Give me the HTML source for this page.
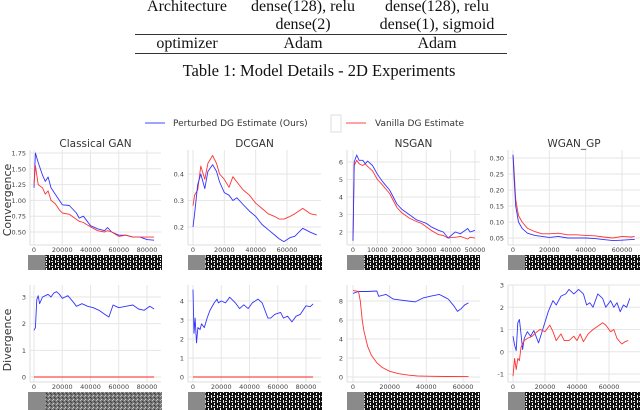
<!DOCTYPE html>
<html><head><meta charset="utf-8">
<style>
body{margin:0;background:#fff;width:640px;height:410px;overflow:hidden;}
svg{display:block;}
</style></head>
<body>
<svg id="fig" width="640" height="410" viewBox="0 0 640 410" xmlns="http://www.w3.org/2000/svg">
<defs>
<pattern id="pt" width="6" height="5" patternUnits="userSpaceOnUse">
<rect width="6" height="5" fill="#111"/>
<rect x="1" y="0" width="1" height="3" fill="#eee"/>
<rect x="3" y="1" width="2" height="1" fill="#ddd"/>
<rect x="4" y="3" width="1" height="2" fill="#fff"/>
</pattern>
<pattern id="pn" width="4" height="4" patternUnits="userSpaceOnUse">
<rect width="4" height="4" fill="#777"/>
<rect x="0" y="0" width="1" height="1" fill="#bbb"/>
<rect x="2" y="1" width="1" height="1" fill="#333"/>
<rect x="1" y="3" width="1" height="1" fill="#ccc"/>
<rect x="3" y="2" width="1" height="1" fill="#444"/>
</pattern>
</defs>
<g font-family="Liberation Serif, serif" font-size="16" fill="#111" text-anchor="middle">
<text x="187" y="11">Architecture</text>
<text x="303" y="11">dense(128), relu</text>
<text x="303" y="29">dense(2)</text>
<text x="437" y="11">dense(128), relu</text>
<text x="437" y="29">dense(1), sigmoid</text>
<line x1="135" y1="34.5" x2="507" y2="34.5" stroke="#333" stroke-width="1"/>
<text x="187" y="48">optimizer</text>
<text x="303" y="48">Adam</text>
<text x="437" y="48">Adam</text>
<line x1="135" y1="53.5" x2="507" y2="53.5" stroke="#333" stroke-width="1"/>
<text x="319" y="76" font-size="16.5">Table 1: Model Details - 2D Experiments</text>
</g>
<g font-family="DejaVu Sans, sans-serif" font-size="9" fill="#333">
<line x1="145" y1="123" x2="165" y2="123" stroke="#44f" stroke-width="1"/>
<text x="173" y="126">Perturbed DG Estimate (Ours)</text>
<rect x="331" y="115" width="10" height="17" fill="none" stroke="#ddd"/>
<line x1="346" y1="123" x2="366" y2="123" stroke="#f44" stroke-width="1"/>
<text x="375" y="126">Vanilla DG Estimate</text>
</g>
<text transform="translate(11,200) rotate(-90)" text-anchor="middle" font-family="DejaVu Sans, sans-serif" font-size="11" fill="#333">Convergence</text>
<text transform="translate(11,340) rotate(-90)" text-anchor="middle" font-family="DejaVu Sans, sans-serif" font-size="11" fill="#333">Divergence</text>
</svg>
<script>
// ---- data ----
const clsTopX=[0,1000,3000,6000,8000,10000,12000,15000,18000,20000,25000,30000,32000,35000,40000,45000,50000,52000,55000,60000,65000,70000,75000,80000,85000];
const clsTopBlue=[1.2,1.75,1.6,1.4,1.3,1.37,1.2,1.1,1.0,0.93,0.92,0.8,0.72,0.75,0.6,0.55,0.52,0.57,0.5,0.45,0.45,0.42,0.42,0.38,0.37];
const clsTopRed=[1.25,1.55,1.25,1.2,1.1,1.15,1.0,0.95,0.85,0.8,0.78,0.7,0.67,0.65,0.58,0.52,0.5,0.52,0.5,0.43,0.45,0.42,0.42,0.42,0.42];
const dcTopX=[0,1000,3000,5000,7500,9500,12500,15000,17000,20000,23000,25500,28000,32000,36000,40000,44000,48000,52000,55000,58000,62000,65000,70000,75000,79000];
const dcTopBlue=[0.2,0.25,0.36,0.40,0.345,0.41,0.435,0.41,0.37,0.33,0.32,0.3,0.31,0.285,0.26,0.24,0.21,0.19,0.17,0.155,0.145,0.16,0.165,0.195,0.18,0.17];
const dcTopRed=[0.28,0.32,0.34,0.43,0.38,0.44,0.47,0.44,0.40,0.38,0.35,0.39,0.37,0.34,0.32,0.29,0.27,0.25,0.24,0.23,0.23,0.24,0.25,0.27,0.25,0.245];
const nsTopX=[0,500,1500,2500,4000,5000,6000,8000,10000,12000,15000,18000,20000,23000,26000,28000,30000,32000,35000,37000,39000,41000,42000,44000,47000,48000,50000];
const nsTopBlue=[1.5,6.0,6.4,6.1,6.1,5.9,6.05,5.8,5.3,4.9,4.4,3.6,3.3,3.0,2.7,2.6,2.5,2.3,2.1,2.0,1.65,1.9,2.0,1.9,2.2,2.0,2.1];
const nsTopRed=[1.5,5.8,6.1,5.9,5.8,5.9,5.75,5.5,5.0,4.7,4.2,3.4,3.1,2.8,2.6,2.5,2.3,2.1,1.85,1.8,1.65,1.7,1.7,1.75,1.6,1.7,1.65];
const wgTopX=[0,500,1500,3000,5000,8000,12000,16000,20000,25000,30000,35000,40000,45000,50000,55000,60000,65000,67000];
const wgTopBlue=[0.31,0.25,0.15,0.1,0.08,0.065,0.058,0.055,0.052,0.055,0.05,0.05,0.05,0.048,0.045,0.042,0.043,0.045,0.045];
const wgTopRed=[0.31,0.27,0.17,0.12,0.1,0.08,0.07,0.063,0.063,0.065,0.06,0.06,0.058,0.057,0.053,0.05,0.055,0.053,0.055];
const clsBotX=[0,1000,2000,3000,4000,6000,8000,10000,12000,14000,16000,18000,20000,24000,28000,30000,34000,38000,42000,46000,50000,53000,56000,60000,65000,70000,74000,78000,82000,85000];
const clsBotBlue=[1.75,1.85,2.9,3.05,2.75,3.0,3.05,3.1,3.0,3.15,3.2,3.1,2.95,3.05,2.8,2.65,2.75,2.65,2.6,2.5,2.35,2.25,2.7,2.6,2.65,2.7,2.55,2.5,2.65,2.55];
const clsBotRedX=[0,85000];
const clsBotRed=[0,0];
const dcBotX=[0,700,1500,2500,3500,5000,6000,8000,10000,12000,15000,17000,18000,20000,23000,26000,30000,33000,36000,39000,42000,46000,49000,51000,53000,55000,58000,62000,64000,67000,70000,73000,76000,80000,83000,85000];
const dcBotBlue=[4.6,2.3,3.1,1.8,2.6,2.5,2.8,2.6,3.1,3.5,3.9,4.1,3.9,4.0,3.9,4.2,3.9,3.6,3.8,3.6,3.9,4.1,3.9,3.5,3.1,3.1,3.3,3.4,3.1,3.2,2.9,3.2,3.3,3.75,3.7,3.85];
const dcBotRedX=[0,85000];
const dcBotRed=[0,0];
const nsBotX=[0,3000,8000,13000,14000,18000,22000,26000,30000,34000,38000,42000,47000,50000,52000,55000,57000,59000,61000,63000];
const nsBotBlue=[8.8,9.0,9.0,9.05,8.5,8.7,8.2,8.1,8.0,7.9,8.3,8.5,8.7,8.4,8.2,7.5,6.9,7.2,7.6,7.8];
const nsBotRedX=[0,3000,4000,5000,6000,8000,10000,13000,16000,20000,25000,30000,35000,40000,50000,63000];
const nsBotRed=[9.1,9.0,8.0,6.0,4.8,3.2,2.3,1.5,1.0,0.6,0.35,0.2,0.12,0.08,0.05,0.04];
const wgBotX=[0,1000,2000,3000,4000,5000,6000,7000,9000,11000,13000,16000,19000,22000,25000,27000,30000,33000,35000,38000,41000,44000,46000,48000,50000,53000,56000,58000,61000,63000,65000,67000,69000,71000,73000];
const wgBotBlue=[0.7,0.3,0.05,1.3,1.45,0.8,0.1,0.6,0.9,0.7,0.95,0.4,1.1,1.8,2.3,2.1,2.5,2.6,2.8,2.6,2.8,2.6,2.1,2.2,2.0,2.6,2.4,2.0,2.3,2.0,2.2,1.8,2.1,2.0,2.4];
const wgBotRedX=[0,1000,2000,3000,4000,5000,7000,9000,12000,15000,17000,20000,23000,25000,27000,30000,32000,35000,38000,40000,42000,44000,47000,50000,54000,56000,58000,61000,63000,65000,68000,70000,72000];
const wgBotRed=[-1.1,-0.3,-0.8,-0.3,-0.4,0.2,0.5,0.6,0.7,0.9,1.0,0.9,1.2,0.9,0.5,0.8,0.5,0.5,0.7,0.5,0.8,0.45,0.8,1.0,1.2,1.3,1.2,0.9,1.0,0.6,0.35,0.45,0.5];
const titles=["Classical GAN","DCGAN","NSGAN","WGAN_GP"];
const ytClsTop=[0.5,0.75,1.0,1.25,1.5,1.75];
const ytDcTop=[0.2,0.3,0.4];
const ytNsTop=[2,3,4,5,6];
const ytWgTop=[0.05,0.10,0.15,0.20,0.25,0.30];
const ytClsBot=[0,1,2,3];
const ytDcBot=[0,1,2,3,4];
const ytNsBot=[0,2,4,6,8];
const ytWgBot=[-1,0,1,2,3];
const xtClsBot=[0,20000,40000,60000,80000];
const xtDc=[0,20000,40000,60000];
const xtNsTop=[0,10000,20000,30000,40000,50000];
const xtSix=[0,20000,40000,60000];

// ---- layout ----
const NS="http://www.w3.org/2000/svg";
const svg=document.getElementById('fig');
function mk(tag,attrs,parent){const e=document.createElementNS(NS,tag);for(const k in attrs)e.setAttribute(k,attrs[k]);(parent||svg).appendChild(e);return e;}
function lin(d0,d1,r0,r1){return v=>r0+(v-d0)*(r1-r0)/(d1-d0);}
const panels=[
 {name:'classical-gan-convergence',box:[30,150,161,245],sx:lin(0,80000,34,147),sy:lin(1.75,0.5,153,232),yt:ytClsTop,yf:v=>v.toFixed(2),xt:xtClsBot,series:[[clsTopX,clsTopBlue,'#33f'],[clsTopX,clsTopRed,'#f33']],title:0,strip:[28,255,162,270,'pt']},
 {name:'dcgan-convergence',box:[188,150,321,245],sx:lin(0,60000,193,287),sy:lin(0.4,0.2,174,227),yt:ytDcTop,yf:v=>v.toFixed(1),xt:xtDc,series:[[dcTopX,dcTopRed,'#f33'],[dcTopX,dcTopBlue,'#33f']],title:1,strip:[188,255,322,270,'pt']},
 {name:'nsgan-convergence',box:[347,150,480,245],sx:lin(0,50000,353,475),sy:lin(6,2,162,232),yt:ytNsTop,yf:v=>String(v),xt:xtNsTop,series:[[nsTopX,nsTopRed,'#f33'],[nsTopX,nsTopBlue,'#33f']],title:2,strip:[347,255,480,270,'pt']},
 {name:'wgan-gp-convergence',box:[508,150,640,245],sx:lin(0,60000,513,622),sy:lin(0.30,0.05,158,238),yt:ytWgTop,yf:v=>v.toFixed(2),xt:xtSix,series:[[wgTopX,wgTopRed,'#f33'],[wgTopX,wgTopBlue,'#33f']],title:3,strip:[508,255,640,270,'pt']},
 {name:'classical-gan-divergence',box:[30,285,161,382],sx:lin(0,80000,34,147),sy:lin(3,0,297,377),yt:ytClsBot,yf:v=>String(v),xt:xtClsBot,series:[[clsBotX,clsBotBlue,'#33f'],[clsBotRedX,clsBotRed,'#f22']],strip:[28,392,162,410,'pn']},
 {name:'dcgan-divergence',box:[188,285,321,382],sx:lin(0,80000,193,306),sy:lin(4,0,301,377),yt:ytDcBot,yf:v=>String(v),xt:xtClsBot,series:[[dcBotX,dcBotBlue,'#33f'],[dcBotRedX,dcBotRed,'#f22']],strip:[188,392,322,410,'pt']},
 {name:'nsgan-divergence',box:[347,285,480,382],sx:lin(0,60000,353,463),sy:lin(8,0,301,377),yt:ytNsBot,yf:v=>String(v),xt:xtSix,series:[[nsBotX,nsBotBlue,'#33f'],[nsBotRedX,nsBotRed,'#f33']],strip:[347,392,480,410,'pt']},
 {name:'wgan-gp-divergence',box:[508,285,640,382],sx:lin(0,60000,513,609),sy:lin(3,-1,285,374),yt:ytWgBot,yf:v=>String(v),xt:xtSix,series:[[wgBotX,wgBotBlue,'#33f'],[wgBotRedX,wgBotRed,'#f33']],strip:[508,392,640,410,'pt']}
];
panels.forEach(p=>{
 const g=mk('g',{});
 
 
 const [x0,y0,x1,y1]=p.box;
 p.yt.forEach(v=>{const y=p.sy(v);
  const l=mk('line',{x1:x0,x2:x1,y1:y,y2:y,stroke:'#e6e6e6','stroke-width':1},g);
  
  
  const t=mk('text',{x:x0-4,y:y+2.5,'text-anchor':'end','font-family':'DejaVu Sans, sans-serif','font-size':6.5,fill:'#444'},g);
  
  
  t.textContent=p.yf(v);});
 p.xt.forEach(v=>{const x=p.sx(v);
  const l=mk('line',{x1:x,x2:x,y1:y0,y2:y1,stroke:'#e6e6e6','stroke-width':1},g);
  
  
  const t=mk('text',{x:x,y:y1+7,'text-anchor':'middle','font-family':'DejaVu Sans, sans-serif','font-size':6.5,fill:'#444'},g);
  
  
  t.textContent=String(v);});
 mk('line',{x1:x0,x2:x1,y1:y1,y2:y1,stroke:'#ddd'},g);
 mk('line',{x1:x0,x2:x0,y1:y0,y2:y1,stroke:'#ddd'},g);
 p.series.forEach(s=>{
  const pts=s[0].map((xv,i)=>p.sx(xv).toFixed(1)+','+p.sy(s[1][i]).toFixed(1)).join(' ');
  const pl=mk('polyline',{points:pts,fill:'none',stroke:s[2],'stroke-width':0.9,'stroke-linejoin':'round'},g);
  
  
 });
 if(p.title!==undefined){
  const t=mk('text',{x:(x0+x1)/2,y:147,'text-anchor':'middle','font-family':'DejaVu Sans, sans-serif','font-size':10.5,fill:'#333'},g);
  
  
  t.textContent=titles[p.title];
 }
 const [sx0,sy0,sx1,sy1,pat]=p.strip;
 const sg=mk('g',{},g);
 
 
 mk('rect',{x:sx0,y:sy0,width:sx1-sx0,height:sy1-sy0,fill:'url(#'+pat+')'},sg);
 mk('rect',{x:sx0,y:sy0,width:(sx1-sx0)*0.13,height:sy1-sy0,fill:'#8a8a8a'},sg);
});
</script>
</body></html>
